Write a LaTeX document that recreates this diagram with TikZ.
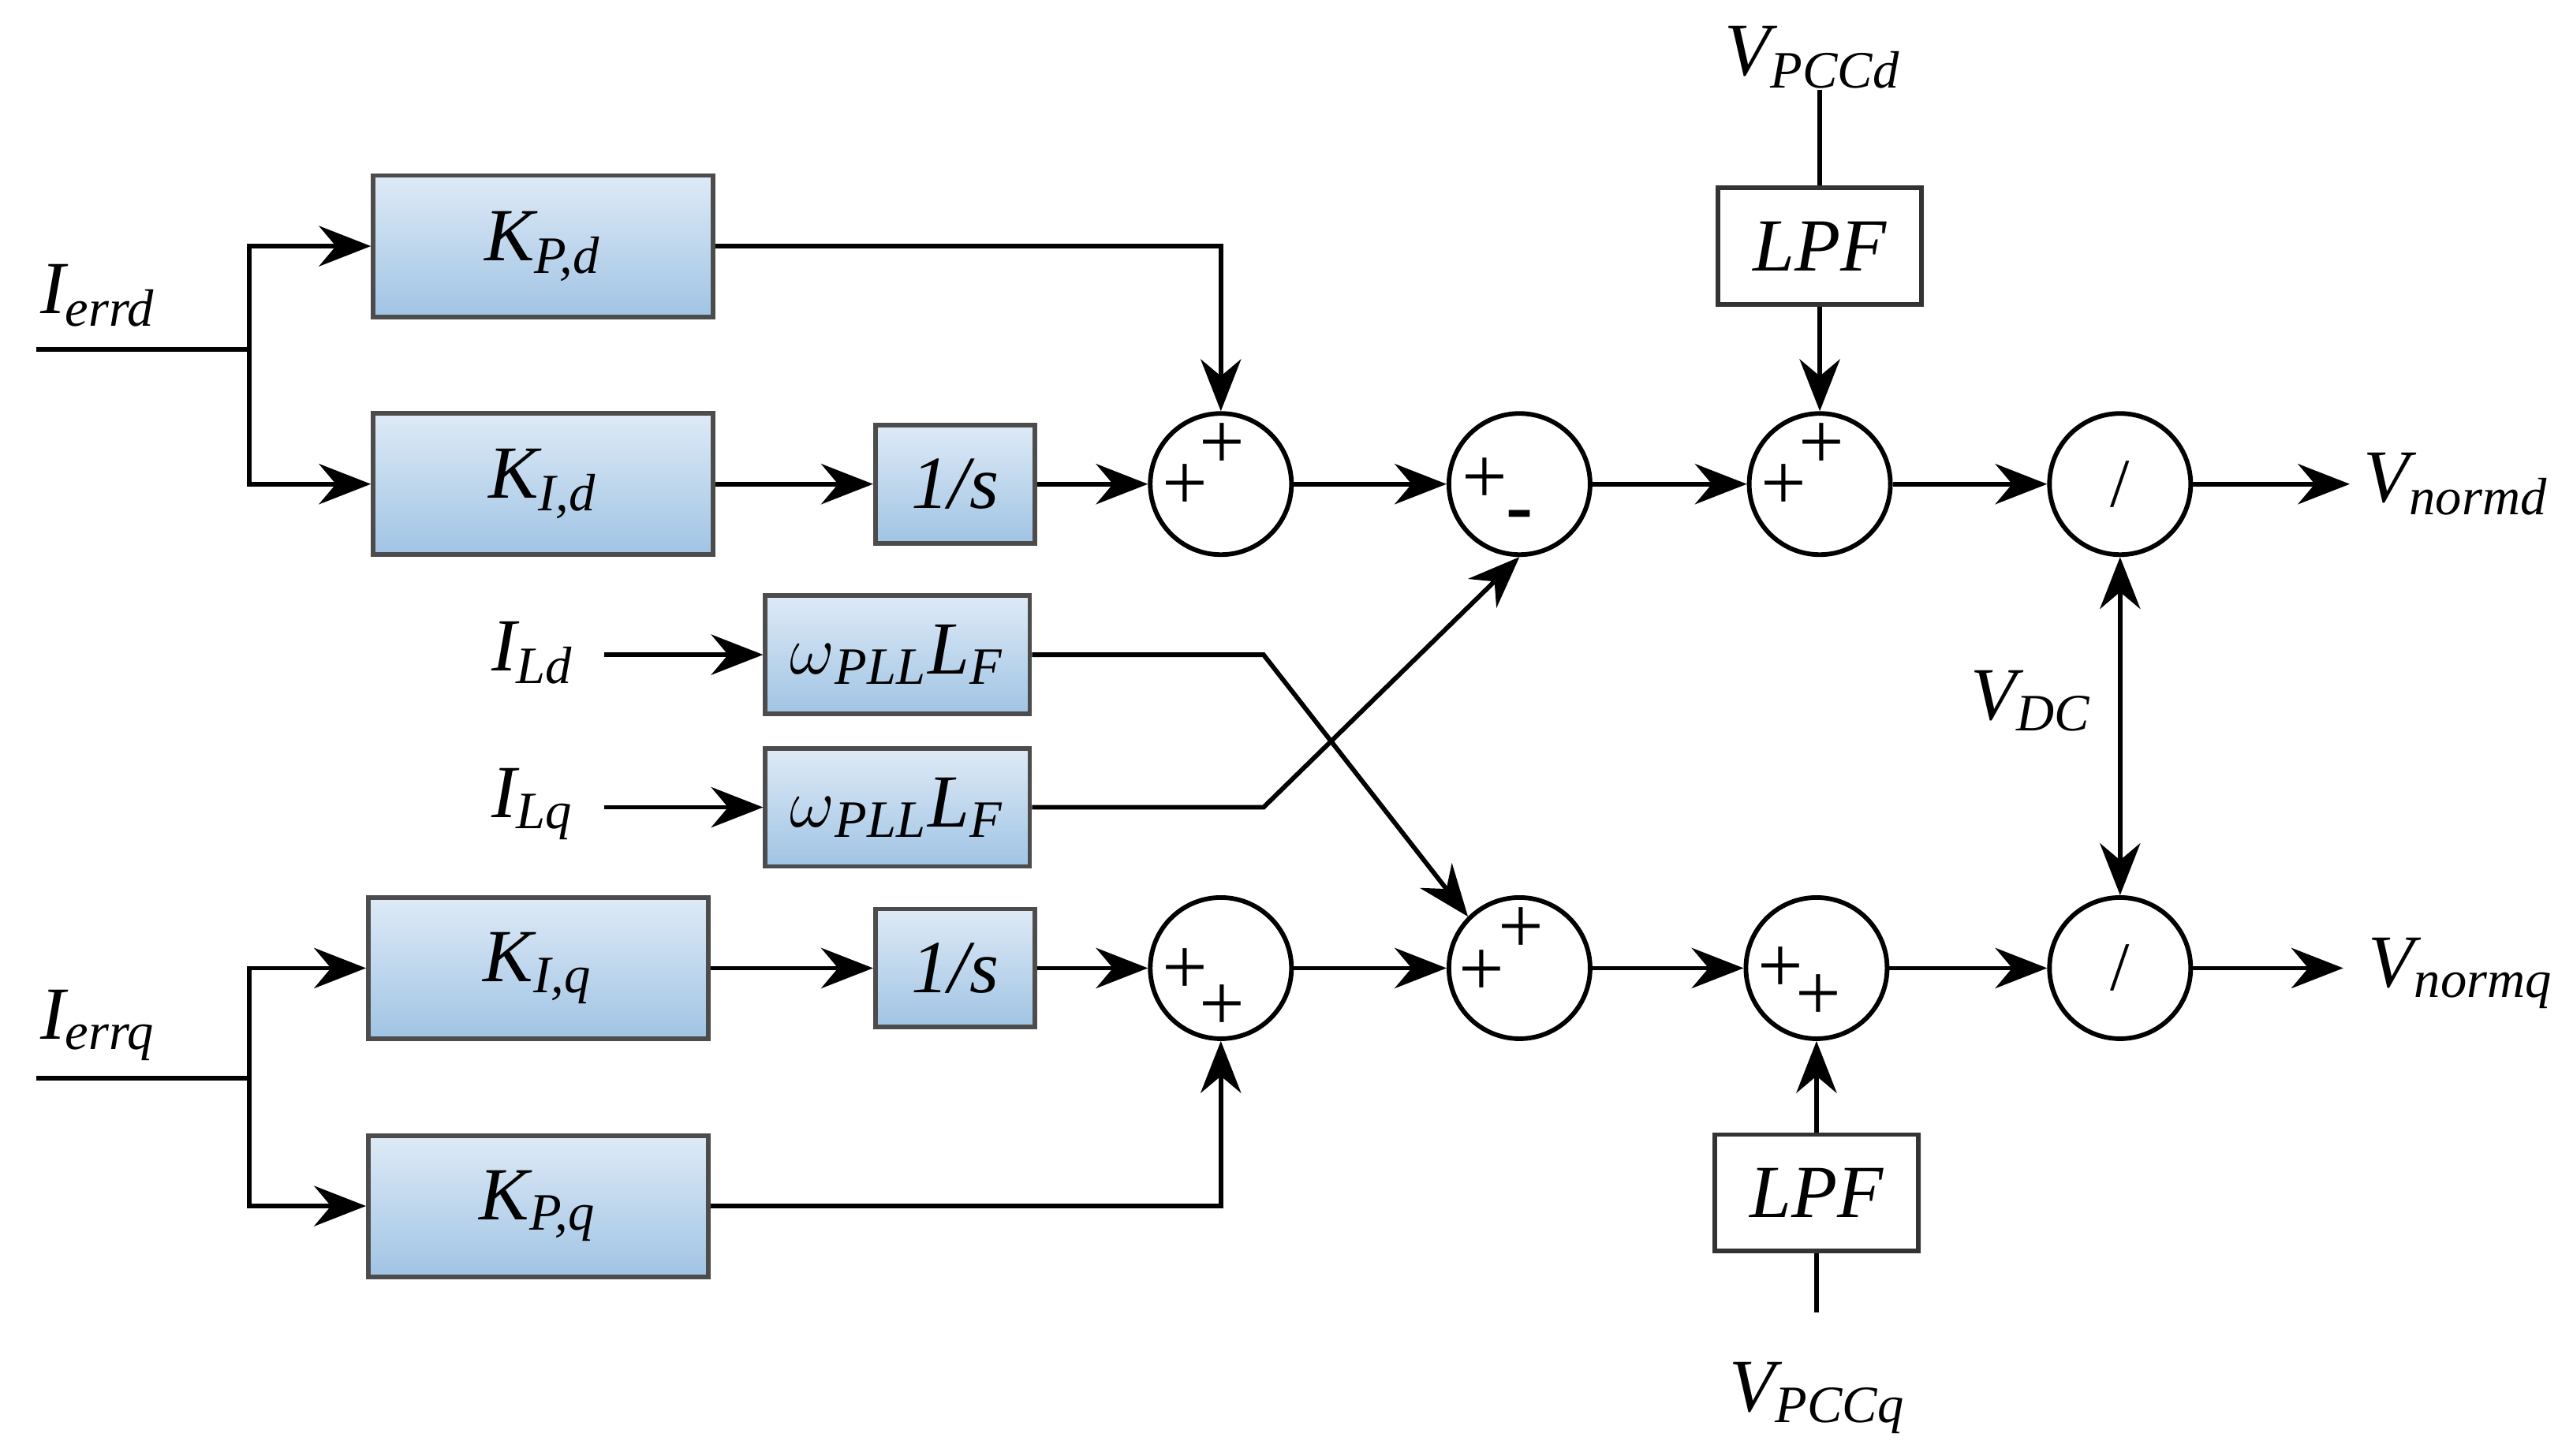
\documentclass[tikz,border=0pt]{standalone}
\usepackage{fontspec}
\setmainfont{Liberation Serif}
\usetikzlibrary{arrows.meta}
\definecolor{bt}{RGB}{222,234,246}
\definecolor{bb}{RGB}{160,196,228}
\begin{document}
\begin{tikzpicture}[x=0.01cm,y=-0.01cm,
  font=\fontsize{13}{15}\selectfont\itshape,
  every path/.style={line width=0.8pt},
  ar/.style={-{Stealth[length=9pt,width=7pt]}},
  blk/.style={draw=black!70,top color=bt,bottom color=bb,inner sep=0pt},
  wbox/.style={draw=black!80,fill=white,inner sep=0pt},
  sum/.style={circle,draw,minimum size=0.86cm,inner sep=0pt,font=\fontsize{12}{12}\selectfont},
  sg/.style={font=\fontsize{14}{14}\selectfont\upshape,inner sep=0pt}]
\useasboundingbox (0,0) rectangle (1568,887);
% top row
\node[blk,minimum width=2.07cm,minimum height=0.86cm] (kpd) at (331,150) {K\textsubscript{P,d}};
\node[blk,minimum width=2.07cm,minimum height=0.86cm] (kid) at (331,295) {K\textsubscript{I,d}};
\node[blk,minimum width=0.97cm,minimum height=0.72cm] (isd) at (582,295) {1/s};
\node[sum] (s1) at (744,295) {};
\node[sum] (s2) at (926,295) {};
\node[sum] (s3) at (1109,295) {};
\node[sum] (d1) at (1292,295) {\upshape /};
\node[wbox,minimum width=1.24cm,minimum height=0.71cm] (lpfd) at (1109,150) {LPF};
\node (vpd) at (1105,35) {V\textsubscript{PCCd}};
\coordinate (vpdt) at (1109,55);
\node (vnd) at (1497,295) {V\textsubscript{normd}};
\coordinate (vnde) at (1432,295);
\node (ierd) at (60,180) {I\textsubscript{errd}};
\coordinate (ierdin) at (22,213);
\coordinate (brd) at (152,213);
% middle
\node[blk,minimum width=1.61cm,minimum height=0.72cm] (w1) at (547,399) {$\omega$\textsubscript{PLL}L\textsubscript{F}};
\node[blk,minimum width=1.61cm,minimum height=0.72cm] (w2) at (547,492) {$\omega$\textsubscript{PLL}L\textsubscript{F}};
\node (ild) at (325,398) {I\textsubscript{Ld}};
\node (ilq) at (325,490) {I\textsubscript{Lq}};
\coordinate (ildo) at (368,399);
\coordinate (ilqo) at (368,492);
\node (vdc) at (1238,427) {V\textsubscript{DC}};
% bottom row
\node[blk,minimum width=2.07cm,minimum height=0.86cm] (kiq) at (328,590) {K\textsubscript{I,q}};
\node[blk,minimum width=2.07cm,minimum height=0.86cm] (kpq) at (328,735) {K\textsubscript{P,q}};
\node[blk,minimum width=0.97cm,minimum height=0.72cm] (isq) at (582,590) {1/s};
\node[sum] (s5) at (744,590) {};
\node[sum] (s4) at (926,590) {};
\node[sum] (s6) at (1107,590) {};
\node[sum] (d2) at (1292,590) {\upshape /};
\node[wbox,minimum width=1.24cm,minimum height=0.71cm] (lpfq) at (1107,727) {LPF};
\node (vpq) at (1108,852) {V\textsubscript{PCCq}};
\coordinate (vpqt) at (1107,800);
\node (vnq) at (1500,593) {V\textsubscript{normq}};
\coordinate (vnqe) at (1428,590);
\node (ierq) at (60,625) {I\textsubscript{errq}};
\coordinate (ierqin) at (22,657);
\coordinate (brq) at (152,657);
% signs
\node[sg] at (722,297) {+}; \node[sg] at (745,272) {+};
\node[sg] at (905,293) {+}; \node[sg] at (926,318) {\textbf{-}};
\node[sg] at (1087,297) {+}; \node[sg] at (1110,272) {+};
\node[sg] at (722,592) {+}; \node[sg] at (745,614) {+};
\node[sg] at (903,593) {+}; \node[sg] at (927,567) {+};
\node[sg] at (1085,591) {+}; \node[sg] at (1108,608) {+};
% connectors top
\draw (ierdin) -- (brd);
\draw[ar] (brd) |- (kpd.west);
\draw[ar] (brd) |- (kid.west);
\draw[ar] (kpd.east) -| (s1.north);
\draw[ar] (kid.east) -- (isd.west);
\draw[ar] (isd.east) -- (s1.west);
\draw[ar] (s1.east) -- (s2.west);
\draw[ar] (s2.east) -- (s3.west);
\draw (vpdt) -- (lpfd.north);
\draw[ar] (lpfd.south) -- (s3.north);
\draw[ar] (s3.east) -- (d1.west);
\draw[ar] (d1.east) -- (vnde);
\draw[{Stealth[length=9pt,width=7pt]}-{Stealth[length=9pt,width=7pt]}] (d1.south) -- (d2.north);
% middle
\draw[ar] (ildo) -- (w1.west);
\draw[ar] (ilqo) -- (w2.west);
\draw[ar] (w1.east) -- (770,399) -- (s4.north west);
\draw[ar] (w2.east) -- (770,492) -- (s2.south);
% bottom
\draw (ierqin) -- (brq);
\draw[ar] (brq) |- (kiq.west);
\draw[ar] (brq) |- (kpq.west);
\draw[ar] (kiq.east) -- (isq.west);
\draw[ar] (isq.east) -- (s5.west);
\draw[ar] (kpq.east) -| (s5.south);
\draw[ar] (s5.east) -- (s4.west);
\draw[ar] (s4.east) -- (s6.west);
\draw[ar] (s6.east) -- (d2.west);
\draw[ar] (d2.east) -- (vnqe);
\draw (vpqt) -- (lpfq.south);
\draw[ar] (lpfq.north) -- (s6.south);
\end{tikzpicture}
\end{document}
